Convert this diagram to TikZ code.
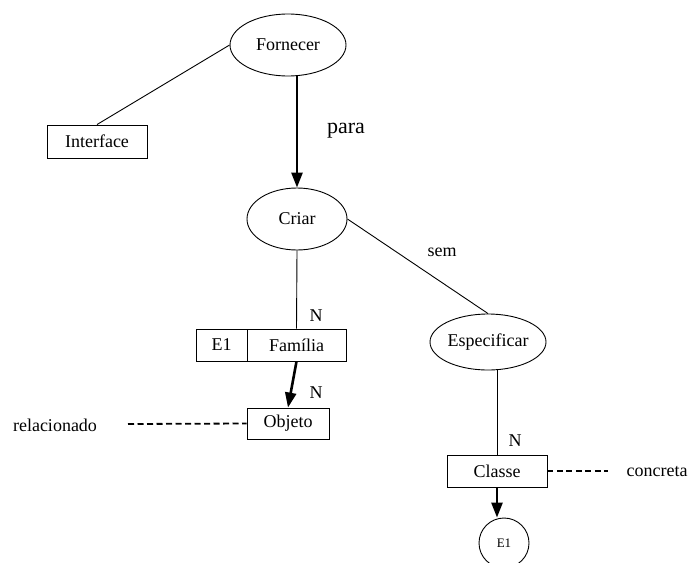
\documentclass[tikz,border=0pt]{standalone}
\usepackage{fontspec}
\setmainfont{Liberation Serif}
\usetikzlibrary{shapes.geometric,arrows.meta}
\begin{document}
\begin{tikzpicture}[x=1pt,y=-1pt,
    elipse/.style={ellipse,draw,line width=0.9pt,inner sep=0pt,font=\fontsize{18}{20}\selectfont},
    caixa/.style={rectangle,draw,line width=0.9pt,inner sep=0pt,minimum height=32pt,font=\fontsize{18}{20}\selectfont},
    rotulo/.style={anchor=base,font=\fontsize{18}{20}\selectfont},
    linha/.style={line width=0.9pt},
    seta/.style={line width=2.6pt,-{Triangle[length=15pt,width=11pt]}},
    tracejado/.style={line width=1.8pt,dash pattern=on 6pt off 3.5pt}]
            \path[use as bounding box,clip] (0,0) rectangle (690,562);

            \node[elipse,minimum width=116pt,minimum height=62pt] (forn) at (288,45) {Fornecer};
            \node[caixa,minimum width=100pt,minimum height=33pt] (intf) at (97,141.5) {Interface};
            \node[elipse,minimum width=100pt,minimum height=62pt] (criar) at (297,219) {Criar};
            \node[elipse,minimum width=116pt,minimum height=56pt] (espec) at (488,342) {Especificar};
            \node[caixa,minimum width=51pt] (e1a) at (221.5,345) {E1};
            \node[caixa,minimum width=99pt] (fam) at (296.5,345) {Família};
            \node[caixa,minimum width=82pt,minimum height=31pt] (obj) at (288,423.5) {Objeto};
            \node[caixa,minimum width=100pt] (classe) at (497,471) {Classe};
            \node[circle,draw,line width=0.9pt,minimum size=50pt,inner sep=0pt,font=\fontsize{13}{15}\selectfont] (e1b) at (504,543) {E1};

            % rotulos das ligacoes
            \node[rotulo,font=\fontsize{22}{24}\selectfont] (para) at (346,133) {para};
            \node[rotulo] (sem) at (442,256) {sem};
            \node[rotulo] (n1) at (316,321) {N};
            \node[rotulo] (n2) at (316,398) {N};
            \node[rotulo] (n3) at (515,446) {N};
            \node[rotulo] (relac) at (55,431) {relacionado};
            \node[rotulo] (concr) at (657,476) {concreta};
            \coordinate (tr1) at (128,424);
            \coordinate (tr2) at (608,471);

            \draw[linha] (intf.north) -- (forn.west);
            \draw[seta] (criar.north |- forn.south) -- (criar.north);
            \draw[linha] (criar.east) -- (espec.north);
            \draw[linha] (criar.south) -- (fam.north);
            \draw[seta] (fam.south) -- (obj.north);
            \draw[tracejado] (tr1) -- (obj.west);
            \draw[linha] (classe.north |- espec.south) -- (classe.north);
            \draw[tracejado] (classe.east) -- (tr2);
            \draw[seta] (classe.south) -- (classe.south |- e1b.north);
            \end{tikzpicture}
\end{document}
